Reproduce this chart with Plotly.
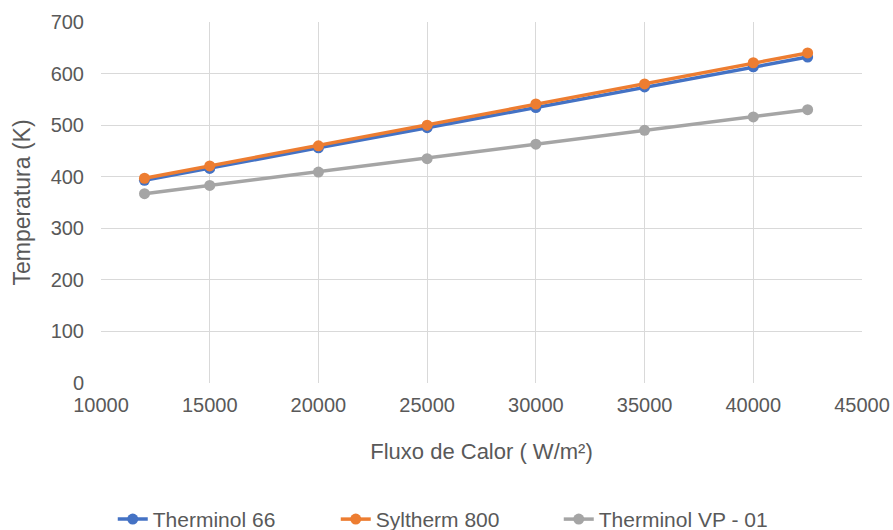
import plotly.graph_objects as go

fluxo = [12000, 15000, 20000, 25000, 30000, 35000, 40000, 42500]
therminol66 = [393, 416, 456, 495, 534, 574, 613, 632]
syltherm800 = [397, 421, 460, 500, 541, 580, 621, 640]
therminolvp01 = [367, 383, 409, 435, 463, 490, 516, 530]

font_family = "Liberation Sans, Arial"
grey_txt = "#595959"

fig = go.Figure()
for name, vals, col in [("Therminol 66", therminol66, "#4472C4"),
                        ("Syltherm 800", syltherm800, "#ED7D31"),
                        ("Therminol VP - 01", therminolvp01, "#A5A5A5")]:
    fig.add_trace(go.Scatter(x=fluxo, y=vals, name=name, mode="lines+markers",
                             line=dict(color=col, width=3.5),
                             marker=dict(color=col, size=11)))

fig.update_layout(
    width=893, height=530,
    margin=dict(l=101, r=31, t=22, b=147, autoexpand=False),
    paper_bgcolor="white", plot_bgcolor="white",
    font=dict(family=font_family, color=grey_txt, size=21),
    showlegend=True,
    legend=dict(orientation="h", x=0.455, xanchor="center", y=-0.378, yanchor="middle",
                font=dict(size=21, color=grey_txt), tracegroupgap=0,
                entrywidth=178, entrywidthmode="pixels"),
    xaxis=dict(range=[10000, 45000], dtick=5000, tick0=10000, tickformat="d",
               showgrid=True, gridcolor="#D9D9D9", gridwidth=1, zeroline=False,
               showline=False, ticks="", ticklabelstandoff=8,
               tickfont=dict(size=20, color=grey_txt),
               title=dict(text="Fluxo de Calor ( W/m²)", font=dict(size=22, color=grey_txt), standoff=28)),
    yaxis=dict(range=[0, 700], dtick=100, showgrid=True, gridcolor="#D9D9D9", gridwidth=1,
               zeroline=False, showline=False, ticks="", ticklabelstandoff=16,
               tickfont=dict(size=20, color=grey_txt),
               title=dict(text="Temperatura (K)", font=dict(size=23, color=grey_txt), standoff=13)),
)

fig.write_html("out.html")
